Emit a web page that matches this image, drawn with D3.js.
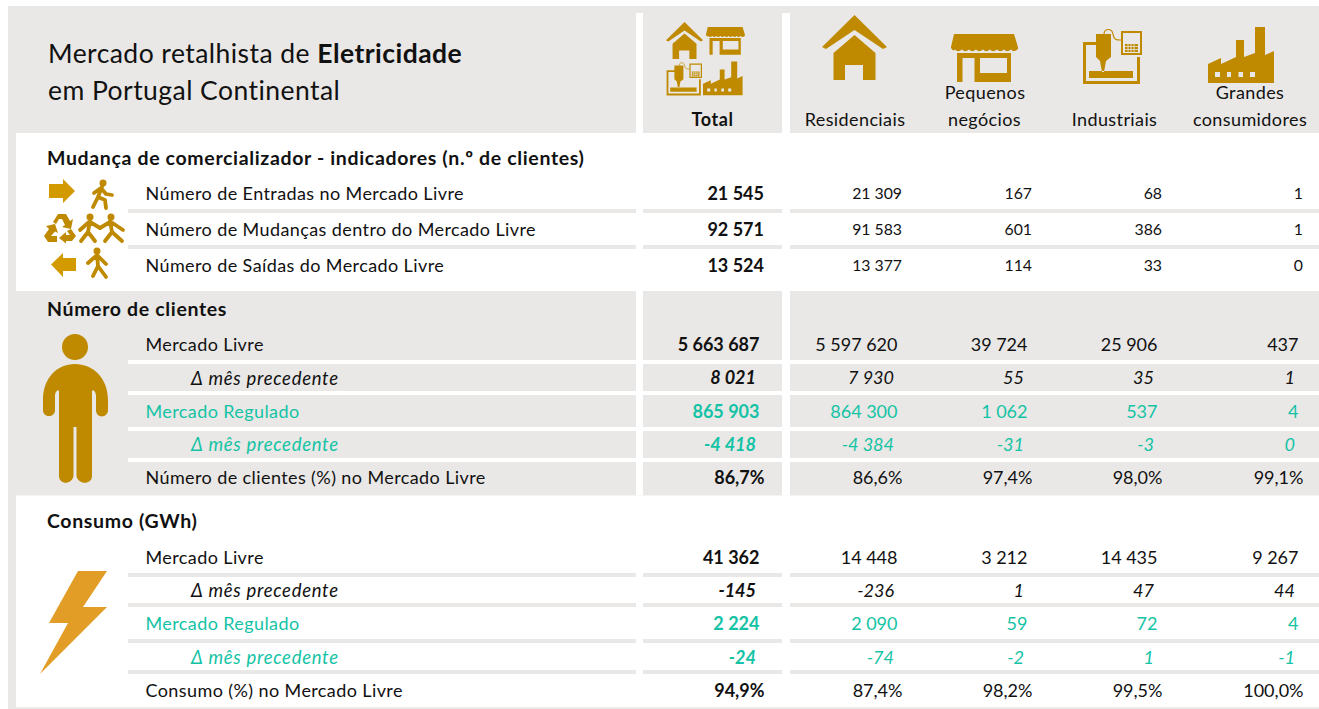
<!DOCTYPE html>
<html>
<head>
<meta charset="utf-8">
<script src="https://cdn.jsdelivr.net/npm/d3@7"></script>
<style>
  html, body { margin: 0; padding: 0; background: #fff; }
  svg { display: block; }
  text { font-family: Lato, "Open Sans", sans-serif; fill: #111; }
</style>
</head>
<body>
<div id="chart"></div>
<script>
// categories
var columns = ['Total', 'Residenciais', 'Pequenos negócios', 'Industriais', 'Grandes consumidores'];

// mudança de comercializador
var mudancaLabels = ['Número de Entradas no Mercado Livre', 'Número de Mudanças dentro do Mercado Livre', 'Número de Saídas do Mercado Livre'];
var entradas = [21545, 21309, 167, 68, 1];
var mudancas = [92571, 91583, 601, 386, 1];
var saidas = [13524, 13377, 114, 33, 0];

// número de clientes
var clientesLabels = ['Mercado Livre', 'Δ mês precedente', 'Mercado Regulado', 'Δ mês precedente ', 'Número de clientes (%) no Mercado Livre'];
var clientesLivre = [5663687, 5597620, 39724, 25906, 437];
var clientesLivreDelta = [8021, 7930, 55, 35, 1];
var clientesRegulado = [865903, 864300, 1062, 537, 4];
var clientesReguladoDelta = [-4418, -4384, -31, -3, 0];
var clientesPct = [86.7, 86.6, 97.4, 98.0, 99.1];

// consumo
var consumoLabels = ['Mercado Livre', 'Δ mês precedente', 'Mercado Regulado', 'Δ mês precedente ', 'Consumo (%) no Mercado Livre'];
var consumoLivre = [41362, 14448, 3212, 14435, 9267];
var consumoLivreDelta = [-145, -236, 1, 47, 44];
var consumoRegulado = [2224, 2090, 59, 72, 4];
var consumoReguladoDelta = [-24, -74, -2, 1, -1];
var consumoPct = [94.9, 87.4, 98.2, 99.5, 100.0];

var width = 1319;
var height = 709;
var gray = '#e9e8e6';
var teal = '#14c3a5';
var gold = '#bf8a00';
var arrowGold = '#d39a00';
var boltGold = '#e29d26';

var locale = d3.formatLocale({ decimal: ',', thousands: ' ', grouping: [3], currency: ['', ''], minus: '-' });
var fmtInt = locale.format(',d');
var fmtPct = function(v) { return locale.format('.1f')(v) + '%'; };

// right edge of each column, rows are then shifted a little by kind
var xRight = d3.scaleOrdinal().domain(columns).range([764, 902, 1032, 1162, 1303]);

var rowKinds = {
    small: { offset: 0, size: 15.8, fmt: fmtInt, color: '#111', italic: false, labelX: 145.5 },
    main: { offset: -4.5, size: 18, fmt: fmtInt, color: '#111', italic: false, labelX: 145.5 },
    delta: { offset: -8, size: 18, fmt: fmtInt, color: '#111', italic: true, labelX: 191 },
    reg: { offset: -4.5, size: 18, fmt: fmtInt, color: teal, italic: false, labelX: 145.5 },
    regDelta: { offset: -8, size: 18, fmt: fmtInt, color: teal, italic: true, labelX: 191 },
    pct: { offset: 0.5, size: 18, fmt: fmtPct, color: '#111', italic: false, labelX: 145.5 }
};

var sections = [
    {
        title: 'Mudança de comercializador - indicadores (n.º de clientes)',
        titleY: 158,
        labels: mudancaLabels,
        rows: [entradas, mudancas, saidas],
        kinds: ['small', 'small', 'small'],
        yRange: [193.7, 265.7],
        top: 133, bottom: 291, fill: '#fff',
        rules: [211, 247]
    },
    {
        title: 'Número de clientes',
        titleY: 309,
        labels: clientesLabels,
        rows: [clientesLivre, clientesLivreDelta, clientesRegulado, clientesReguladoDelta, clientesPct],
        kinds: ['main', 'delta', 'reg', 'regDelta', 'pct'],
        yRange: [345, 477.5],
        top: 291, bottom: 495.5, fill: gray,
        rules: [362, 393, 429, 460]
    },
    {
        title: 'Consumo (GWh)',
        titleY: 521,
        labels: consumoLabels,
        rows: [consumoLivre, consumoLivreDelta, consumoRegulado, consumoReguladoDelta, consumoPct],
        kinds: ['main', 'delta', 'reg', 'regDelta', 'pct'],
        yRange: [557.5, 690.5],
        top: 495.5, bottom: 707.5, fill: '#fff',
        rules: [575, 605, 641, 672]
    }
];

// x stretches of the table that carry the rules, white gaps are between them
var ruleSpans = [[128, 636], [643, 782], [790, 1319]];

var svg = d3.select('#chart').append('svg')
    .attr('width', width)
    .attr('height', height);

// frame and header
svg.append('rect').attr('x', 8).attr('y', 6).attr('width', width - 8).attr('height', height - 6).attr('fill', gray);

[636, 782].forEach(function(x, i) {
    svg.append('rect').attr('x', x).attr('y', 13).attr('width', i ? 8 : 7).attr('height', 120).attr('fill', '#fff');
});

var title1 = svg.append('text').attr('x', 48).attr('y', 63).style('font-size', '26.5px').style('letter-spacing', '0.45px');
title1.append('tspan').text('Mercado retalhista de ');
title1.append('tspan').style('font-weight', 700).text('Eletricidade');
svg.append('text').attr('x', 48).attr('y', 100).style('font-size', '26.5px').style('letter-spacing', '0.45px').text('em Portugal Continental');

// column headers
var headerLines = [
    { text: 'Total', x: 712.5, y: 120, bold: true },
    { text: 'Residenciais', x: 855, y: 120 },
    { text: 'Pequenos', x: 985, y: 93 },
    { text: 'negócios', x: 984.5, y: 120 },
    { text: 'Industriais', x: 1114.5, y: 120 },
    { text: 'Grandes', x: 1250, y: 93 },
    { text: 'consumidores', x: 1250, y: 120 }
];
svg.selectAll('text.head')
    .data(headerLines)
    .enter()
    .append('text')
    .attr('class', 'head')
    .attr('x', function(d) { return d.x; })
    .attr('y', function(d) { return d.y; })
    .attr('dy', '0.35em')
    .attr('text-anchor', 'middle')
    .style('font-size', '18px')
    .style('letter-spacing', function(d) { return d.bold ? '0.6px' : '0.4px'; })
    .style('font-weight', function(d) { return d.bold ? 700 : 400; })
    .text(function(d) { return d.text; });

// sections
sections.forEach(function(s) {
    var g = svg.append('g');

    if (s.fill === '#fff') {
        g.append('rect').attr('x', 16).attr('y', s.top).attr('width', width - 16).attr('height', s.bottom - s.top).attr('fill', '#fff');
    } else {
        // white gaps run through the gray block
        [[636, 7], [782, 8]].forEach(function(gap) {
            g.append('rect').attr('x', gap[0]).attr('y', s.top).attr('width', gap[1]).attr('height', s.bottom - s.top).attr('fill', '#fff');
        });
    }

    var ruleColor = s.fill === '#fff' ? gray : '#fff';
    s.rules.forEach(function(r) {
        g.selectAll(null)
            .data(ruleSpans)
            .enter()
            .append('rect')
            .attr('x', function(d) { return d[0]; })
            .attr('y', r - 2)
            .attr('width', function(d) { return d[1] - d[0]; })
            .attr('height', 4)
            .attr('fill', ruleColor);
    });

    g.append('text')
        .attr('x', 47)
        .attr('y', s.titleY)
        .attr('dy', '0.35em')
        .style('font-size', '19.5px')
        .style('letter-spacing', '0.65px')
        .style('font-weight', 700)
        .text(s.title);

    var y = d3.scalePoint().domain(s.labels).range(s.yRange);

    var row = g.selectAll('g.row')
        .data(s.labels.map(function(l, i) { return { label: l, values: s.rows[i], kind: rowKinds[s.kinds[i]] }; }))
        .enter()
        .append('g')
        .attr('class', 'row')
        .attr('transform', function(d) { return 'translate(0,' + y(d.label) + ')'; });

    row.append('text')
        .attr('x', function(d) { return d.kind.labelX; })
        .attr('dy', '0.35em')
        .style('font-size', function(d) { return d.kind.italic ? '18.5px' : '18px'; })
        .style('letter-spacing', function(d) { return d.kind.italic ? '0.7px' : '0.4px'; })
        .style('font-style', function(d) { return d.kind.italic ? 'italic' : 'normal'; })
        .style('fill', function(d) { return d.kind.color; })
        .text(function(d) { return d.label.trim(); });

    row.selectAll('text.val')
        .data(function(d) {
            return d.values.map(function(v, i) { return { v: v, col: columns[i], i: i, kind: d.kind }; });
        })
        .enter()
        .append('text')
        .attr('class', 'val')
        .attr('x', function(d) { return xRight(d.col) + d.kind.offset; })
        .attr('dy', '0.35em')
        .attr('text-anchor', 'end')
        .style('font-size', function(d) { return (d.i === 0 ? 18 : d.kind.size) + 'px'; })
        .style('font-weight', function(d) { return d.i === 0 ? 700 : 400; })
        .style('font-style', function(d) { return d.kind.italic ? 'italic' : 'normal'; })
        .style('fill', function(d) { return d.kind.color; })
        .text(function(d) { return d.kind.fmt(d.v); });
});

// thin closing line at the foot
svg.append('rect').attr('x', 16).attr('y', 707.5).attr('width', width - 16).attr('height', 1.5).attr('fill', gray);

// icons, drawn in their own small coordinates
var housePath = 'M32.5 0L65 32L61 34L32.5 15L4 34L0 32Z M32.5 20L53.5 38V65H41V50H23V65H11.5V38Z';
var shopPath = 'M3 0H63L67 13V15Q63 19 60 15.5Q56 19 53 15.5Q49 19 46 15.5Q42 19 39 15.5Q35 19 32 15.5Q28 19 25 15.5Q21 19 18 15.5Q14 19 11 15.5Q7 19 4 15.5Q2 18 0 14V13Z'
    + 'M6 19H60V48H6Z M11.5 24V48H23.5V24Z M29 24V39H56V24Z';
var machinePath = 'M1 12H14V15H4V51H55V27H58V54H1Z M7 41H51V48H7Z'
    + 'M14 4H29V27L24 31L22 42L20 42L18 31L14 27Z'
    + 'M39 1H60V25H39Z M41 3V23H58V3Z M43 14H56V22H43Z';
var factoryPath = 'M0 38L13 32V38L28 31V14H36V31L47 27V1H57V29L66 25V57H0Z'
    + 'M7 46V51H12V46Z M19 46V51H23V46Z M30.5 46V51H35V46Z M42 46V51H47V46Z';

var iconData = [
    { d: housePath, x: 822, y: 15, k: 1 },
    { d: shopPath, x: 951, y: 34, k: 1 },
    { d: machinePath, x: 1082, y: 30, k: 1 },
    { d: factoryPath, x: 1208, y: 26, k: 1 },
    { d: housePath, x: 666, y: 22, k: 0.57 },
    { d: shopPath, x: 706, y: 27, k: 0.58 },
    { d: machinePath, x: 666, y: 63, k: 0.6 },
    { d: factoryPath, x: 703, y: 61, k: 0.6 }
];
svg.selectAll('path.icon')
    .data(iconData)
    .enter()
    .append('path')
    .attr('class', 'icon')
    .attr('d', function(d) { return d.d; })
    .attr('fill-rule', 'evenodd')
    .attr('fill', gold)
    .attr('transform', function(d) { return 'translate(' + d.x + ',' + d.y + ') scale(' + d.k + ')'; });

// machine cable and keypad grid, big and small
[[1082, 30, 1], [666, 63, 0.6]].forEach(function(p) {
    svg.append('path')
        .attr('d', 'M22 4C22 -2 30 -2 31 4C32 10 34 10 39 10')
        .attr('fill', 'none')
        .attr('stroke', gold)
        .attr('stroke-width', 1.2)
        .attr('transform', 'translate(' + p[0] + ',' + p[1] + ') scale(' + p[2] + ')');
    svg.append('path')
        .attr('d', 'M43 16.5H56M43 19.5H56M46 14V22M49 14V22M52 14V22')
        .attr('fill', 'none')
        .attr('stroke', gray)
        .attr('stroke-width', 0.8)
        .attr('transform', 'translate(' + p[0] + ',' + p[1] + ') scale(' + p[2] + ')');
});

// arrows
svg.append('path').attr('d', 'M49 184H63V179L75 191L63 203V198H49Z').attr('fill', arrowGold);
svg.append('path').attr('d', 'M76 258H63V253L51 264.5L63 277V271H76Z').attr('fill', arrowGold);

// walkers
var walkers = [
    { head: [103, 183], limbs: 'M102 187L98 197M98 197L93 207M98 197L105 200L106 208M101 188L94 193M101 188L106 194L112 195' },
    { head: [90, 217], limbs: 'M90 221L88 232M88 232L81 241M88 232L95 241M89 222L80 230M90 222L100 228' },
    { head: [111, 217], limbs: 'M110 221L112 232M112 232L105 241M112 232L122 241M110 222L100 228M111 222L123 230' },
    { head: [97, 251], limbs: 'M97 255L98 266M98 266L93 276M98 266L106 277M96 256L88 263M98 256L106 264' }
];
var walker = svg.selectAll('g.walker').data(walkers).enter().append('g').attr('class', 'walker');
walker.append('circle')
    .attr('cx', function(d) { return d.head[0]; })
    .attr('cy', function(d) { return d.head[1]; })
    .attr('r', 3.5)
    .attr('fill', gold);
walker.append('path')
    .attr('d', function(d) { return d.limbs; })
    .attr('fill', 'none')
    .attr('stroke', gold)
    .attr('stroke-width', 3.8)
    .attr('stroke-linecap', 'round')
    .attr('stroke-linejoin', 'round');

// recycling sign
svg.append('path')
    .attr('d', 'M53 222L58 214H66L70 221L73 219L71 229L62 227L65 225L62 219H59L56 224Z'
        + 'M46 226L55 224L58 233L55 231.5L51 236H57V242H48L44 236L49 229Z'
        + 'M71 229L76 236L72 241H66V243.5L59 238L66 232V235H70L67 231Z')
    .attr('fill', gold);

// big person
svg.append('circle').attr('cx', 75).attr('cy', 347).attr('r', 13).attr('fill', gold);
svg.append('path')
    .attr('d', 'M75 364C93 364 108 378 108 400V410C108 418 96 419 96 410V396C96 391 92 388 92 392V476C92 485 78 485 76.5 476V427H73.5V476C72 485 59 485 59 476V392C59 388 55 391 55 396V410C55 418 43 418 43 410V400C43 378 57 364 75 364Z')
    .attr('fill', gold);

// bolt
svg.append('path')
    .attr('d', 'M78 571H107L83 607H107L40 674L68 623H49Z')
    .attr('fill', boltGold);
</script>
</body>
</html>
